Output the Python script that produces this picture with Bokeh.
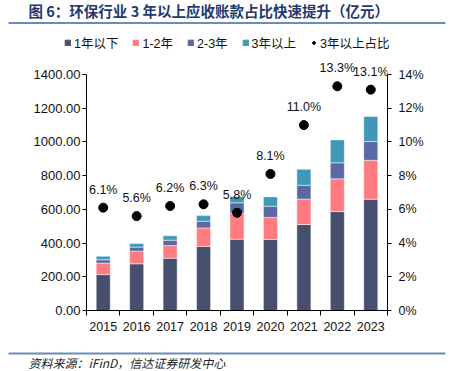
from bokeh.plotting import figure
from bokeh.layouts import column
from bokeh.models import (ColumnDataSource, Range1d, LinearAxis, FixedTicker,
                          PrintfTickFormatter, Legend, LegendItem, Label, BoxAnnotation)
from bokeh.core.properties import value
from bokeh.embed import file_html
from bokeh.resources import INLINE

years = ["2015", "2016", "2017", "2018", "2019", "2020", "2021", "2022", "2023"]
lt1 = [213, 277, 310, 380, 423, 421, 510, 587, 660]
y1_2 = [68, 75, 75, 110, 154, 131, 151, 194, 231]
y2_3 = [20, 24, 32, 40, 62, 67, 82, 95, 111]
gt3 = [21, 21, 26, 33, 37, 55, 95, 136, 149]
ratio = [6.1, 5.6, 6.2, 6.3, 5.8, 8.1, 11.0, 13.3, 13.1]

series_names = ["1年以下", "1-2年", "2-3年", "3年以上"]
ratio_name = "3年以上占比"
colors = ["#46506e", "#ff7b7f", "#5a69a3", "#3f98b5"]
left_ticks = [0, 200, 400, 600, 800, 1000, 1200, 1400]
right_ticks = [0, 2, 4, 6, 8, 10, 12, 14]
title_text = "图 6：环保行业 3 年以上应收账款占比快速提升（亿元）"
source_text = "资料来源：iFinD，信达证券研发中心"

FONT = "Liberation Sans, Noto Sans CJK SC"
CJK = "Noto Sans CJK SC"
RULE = "#6a8cb8"
W = 455
HDR_H, MAIN_H, FTR_H = 56, 284, 31

xs = list(range(len(years)))
src = ColumnDataSource(dict(
    x=xs, a=lt1, b=y1_2, c=y2_3, d=gt3, r=ratio,
    lab=[f"{v:.1f}%" for v in ratio],
))


def banner(h):
    f = figure(width=W, height=h, output_backend="svg", toolbar_location=None,
               x_range=Range1d(0, W), y_range=Range1d(0, h),
               x_axis_type=None, y_axis_type=None, frame_align=False,
               min_border_left=0, min_border_right=0, min_border_top=0, min_border_bottom=0)
    f.outline_line_color = None
    f.grid.visible = False
    f.title.visible = False
    return f


# ---------------- header: title, rule, legend ----------------
hdr = banner(HDR_H)
hdr.add_layout(Label(x=28, y=HDR_H - 10, text=title_text,
                     text_font=CJK, text_font_size="14.5px", text_font_style="bold",
                     text_color="#1f3a6e", text_baseline="middle"))
hdr.add_layout(BoxAnnotation(left=8, right=445, bottom=HDR_H - 23.5, top=HDR_H - 21.5,
                             fill_color=RULE, fill_alpha=1, line_color=None))
# legend proxies (hidden renderers sharing the chart data)
proxies = hdr.vbar_stack(["a", "b", "c", "d"], x="x", width=0.42, source=src, color=colors)
proxy_dot = hdr.scatter("x", "r", source=src, size=9, color="black")
for r in list(proxies) + [proxy_dot]:
    r.visible = False
items = [LegendItem(label=n, renderers=[r]) for n, r in zip(series_names, proxies)]
items.append(LegendItem(label=ratio_name, renderers=[proxy_dot]))
leg = Legend(items=items, orientation="horizontal", location=(64, 4),
             glyph_width=7, glyph_height=7, label_standoff=3, spacing=14,
             padding=0, margin=0, border_line_color=None, background_fill_alpha=0,
             inactive_fill_alpha=0,
             label_text_font=FONT, label_text_font_size="12.5px", label_text_color="#111111",
             label_height=14, label_width=10)
hdr.add_layout(leg, "center")

# ---------------- main chart ----------------
FRAME_H = 254
AXIS_H = 236  # pixels occupied by the 0..max tick span
lmax, rmax = left_ticks[-1], right_ticks[-1]
p = figure(width=W, height=MAIN_H, output_backend="svg", toolbar_location=None,
           x_range=Range1d(-0.5, len(years) - 0.5),
           y_range=Range1d(0, lmax * FRAME_H / AXIS_H), frame_align=False,
           min_border_left=86, min_border_right=68, min_border_top=0, min_border_bottom=30)
p.outline_line_color = None
p.title.visible = False
p.xgrid.grid_line_color = None
p.ygrid.grid_line_color = None
p.extra_y_ranges = {"pct": Range1d(0, rmax * FRAME_H / AXIS_H)}

rs = p.vbar_stack(["a", "b", "c", "d"], x="x", width=0.42, source=src, color=colors,
                  line_color="white", line_alpha=0.6, line_width=0.8)
p.scatter("x", "r", source=src, y_range_name="pct", size=9, color="black")
p.text("x", "r", text="lab", source=src, y_range_name="pct", y_offset=-18,
       text_align="center", text_baseline="middle", text_font=value(FONT),
       text_font_size="12.5px", text_color="#111111")

ax = p.yaxis[0]
ax.ticker = FixedTicker(ticks=left_ticks)
ax.bounds = (0, lmax)
ax.formatter = PrintfTickFormatter(format="%.2f")
ax.major_label_text_font = FONT
ax.major_label_text_font_size = "13px"
ax.major_label_text_color = "#111111"
ax.major_tick_in = 0
ax.major_tick_out = 4
ax.minor_tick_out = 0
ax.minor_tick_in = 0
ax.major_label_standoff = 2
ax.axis_line_color = "black"

ra = LinearAxis(y_range_name="pct", ticker=FixedTicker(ticks=right_ticks),
                formatter=PrintfTickFormatter(format="%d%%"), bounds=(0, rmax))
ra.major_label_text_font = FONT
ra.major_label_text_font_size = "12.5px"
ra.major_label_text_color = "#111111"
ra.major_tick_in = 0
ra.major_tick_out = 4
ra.minor_tick_in = 0
ra.minor_tick_out = 0
ra.major_label_standoff = 7
p.add_layout(ra, "right")

bx = p.xaxis[0]
bx.ticker = FixedTicker(ticks=xs, minor_ticks=[i - 0.5 for i in range(len(years) + 1)])
bx.major_label_overrides = {i: y for i, y in zip(xs, years)}
bx.major_label_text_font = FONT
bx.major_label_text_font_size = "12.5px"
bx.major_label_text_color = "#111111"
bx.major_tick_in = 0
bx.major_tick_out = 0
bx.minor_tick_in = 0
bx.minor_tick_out = 5
bx.major_label_standoff = 6

# ---------------- footer: rule, source ----------------
ftr = banner(FTR_H)
ftr.add_layout(BoxAnnotation(left=8, right=445, bottom=17, top=19,
                             fill_color=RULE, fill_alpha=1, line_color=None))
ftr.add_layout(Label(x=28, y=9.5, text=source_text,
                     text_font=CJK, text_font_size="12px", text_font_style="italic",
                     text_color="#222222", text_baseline="middle"))

layout = column(hdr, p, ftr, spacing=0)
open("out.html", "w").write(file_html(layout, INLINE))
